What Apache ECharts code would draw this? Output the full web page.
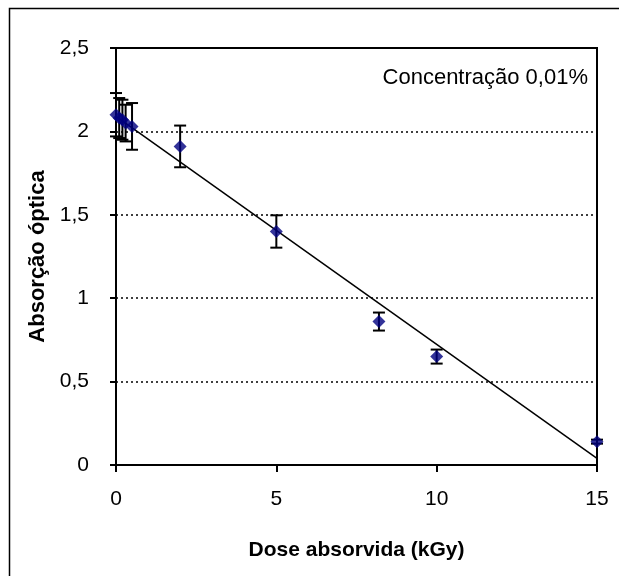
<!DOCTYPE html>
<html>
<head>
<meta charset="utf-8">
<script src="https://cdn.jsdelivr.net/npm/echarts@6/dist/echarts.min.js"></script>
<style>
  html, body { margin: 0; padding: 0; background: #fff; }
  #main { width: 619px; height: 576px; }
</style>
</head>
<body>
<div id="main"></div>
<script>
var myChart = echarts.init(document.getElementById('main'));

// dose (kGy)
var doseX = [0, 0.1, 0.2, 0.3, 0.5, 2, 5, 8.2, 10, 15];
// absorção óptica
var absY = [2.10, 2.08, 2.07, 2.05, 2.03, 1.91, 1.40, 0.86, 0.65, 0.14];
// erro (+/-)
var errY = [0.13, 0.12, 0.12, 0.11, 0.14, 0.125, 0.097, 0.054, 0.042, 0.012];

// linha de tendência
var trendX = [0, 15];
var trendY = [2.09, 0.04];

var xTicks = [0, 5, 10, 15];
var yTicks = [0, 0.5, 1, 1.5, 2, 2.5];

var font = 'Liberation Sans, Arial, sans-serif';

var points = [];
var bars = [];
for (var i = 0; i < doseX.length; i++) {
  points.push([doseX[i], absY[i]]);
  bars.push([doseX[i], absY[i] - errY[i], absY[i] + errY[i]]);
}
var trend = [];
for (var j = 0; j < trendX.length; j++) {
  trend.push([trendX[j], trendY[j]]);
}

// barra de erro com tampas
function renderError(params, api) {
  var x = api.value(0);
  var top = api.coord([x, api.value(2)]);
  var bot = api.coord([x, api.value(1)]);
  var w = 6;
  var style = { stroke: '#000', lineWidth: 2 };
  return {
    type: 'group',
    children: [
      { type: 'line', shape: { x1: top[0], y1: top[1], x2: bot[0], y2: bot[1] }, style: style },
      { type: 'line', shape: { x1: top[0] - w, y1: top[1], x2: top[0] + w, y2: top[1] }, style: style },
      { type: 'line', shape: { x1: bot[0] - w, y1: bot[1], x2: bot[0] + w, y2: bot[1] }, style: style }
    ]
  };
}

var option = {
  animation: false,
  backgroundColor: '#fff',
  graphic: [
    { // moldura externa
      type: 'rect',
      shape: { x: 9.5, y: 8.5, width: 640, height: 640 },
      style: { fill: 'none', stroke: '#000', lineWidth: 1.5 },
      silent: true
    },
    {
      type: 'text',
      right: 31,
      top: 67,
      style: { text: 'Concentração 0,01%', font: '22px ' + font, fill: '#000' }
    }
  ],
  grid: {
    left: 116,
    right: 22,
    top: 48,
    bottom: 111,
    show: true,
    borderColor: '#000',
    borderWidth: 2
  },
  xAxis: {
    type: 'value',
    min: xTicks[0],
    max: xTicks[xTicks.length - 1],
    interval: 5,
    name: 'Dose absorvida (kGy)',
    nameLocation: 'middle',
    nameGap: 75,
    nameTextStyle: { fontFamily: font, fontSize: 21, fontWeight: 'bold', color: '#000' },
    axisLine: { lineStyle: { color: '#000', width: 2 } },
    axisTick: { show: true, length: 7, inside: false, lineStyle: { color: '#000', width: 2 } },
    axisLabel: { fontFamily: font, fontSize: 21, color: '#000', margin: 24 },
    splitLine: { show: false }
  },
  yAxis: {
    type: 'value',
    min: yTicks[0],
    max: yTicks[yTicks.length - 1],
    interval: 0.5,
    name: 'Absorção óptica',
    nameLocation: 'middle',
    nameGap: 65,
    nameTextStyle: { fontFamily: font, fontSize: 22, fontWeight: 'bold', color: '#000' },
    axisLine: { show: true, lineStyle: { color: '#000', width: 2 } },
    axisTick: { show: true, length: 6, lineStyle: { color: '#000', width: 2 } },
    axisLabel: {
      fontFamily: font, fontSize: 21, color: '#000', margin: 27,
      formatter: function (v) { return String(v).replace('.', ','); }
    },
    splitLine: {
      show: true,
      lineStyle: { color: '#000', width: 1.5, type: [2, 3] }
    }
  },
  series: [
    {
      type: 'line',
      data: trend,
      showSymbol: false,
      lineStyle: { color: '#000', width: 1.5 },
      z: 2
    },
    {
      type: 'custom',
      renderItem: renderError,
      data: bars,
      encode: { x: 0, y: [1, 2] },
      clip: false,
      z: 3
    },
    {
      type: 'scatter',
      data: points,
      symbol: 'diamond',
      symbolSize: 13,
      itemStyle: { color: '#000080' },
      z: 4
    }
  ]
};

myChart.setOption(option);
</script>
</body>
</html>
